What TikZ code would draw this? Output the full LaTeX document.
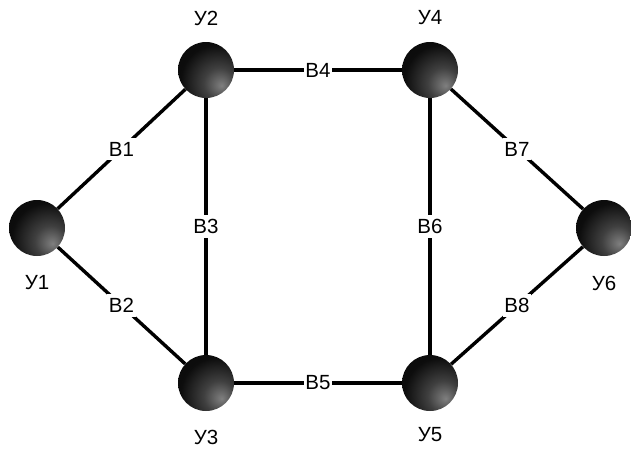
\documentclass[tikz,border=0pt]{standalone}
\usepackage{fontspec}
\setmainfont{Liberation Sans}
\pgfdeclareradialshading{myball}{\pgfpoint{14bp}{-14bp}}{color(0bp)=(black!50); color(14bp)=(black!75); color(32bp)=(black!95); color(50bp)=(black!97); color(100bp)=(black!97)}
\begin{document}
\begin{tikzpicture}[x=1pt,y=-1pt,
  vert/.style={circle,minimum size=56pt,inner sep=0pt,shading=myball},
  lbl/.style={font=\fontsize{20.5}{20.5}\selectfont},
  elbl/.style={font=\fontsize{20.5}{20.5}\selectfont,fill=white,inner xsep=1.5pt,inner ysep=4pt},
  edge/.style={line width=3.4pt}]
\useasboundingbox (0,0) rectangle (631,448);
\node[vert] (u1) at (37,228) {};
\node[vert] (u2) at (206,70) {};
\node[vert] (u3) at (206,383) {};
\node[vert] (u4) at (430,70) {};
\node[vert] (u5) at (430,383) {};
\node[vert] (u6) at (604,228) {};
\node[lbl] (t1) at (37,283) {У1};
\node[lbl] (t2) at (206,18) {У2};
\node[lbl] (t3) at (206,437) {У3};
\node[lbl] (t4) at (430,18) {У4};
\node[lbl] (t5) at (430,435) {У5};
\node[lbl] (t6) at (604,283) {У6};
\draw[edge] (u1) -- node[elbl]{В1} (u2);
\draw[edge] (u1) -- node[elbl]{В2} (u3);
\draw[edge] (u2) -- node[elbl]{В3} (u3);
\draw[edge] (u2) -- node[elbl]{В4} (u4);
\draw[edge] (u3) -- node[elbl]{В5} (u5);
\draw[edge] (u4) -- node[elbl]{В6} (u5);
\draw[edge] (u4) -- node[elbl]{В7} (u6);
\draw[edge] (u5) -- node[elbl]{В8} (u6);
\end{tikzpicture}
\end{document}
